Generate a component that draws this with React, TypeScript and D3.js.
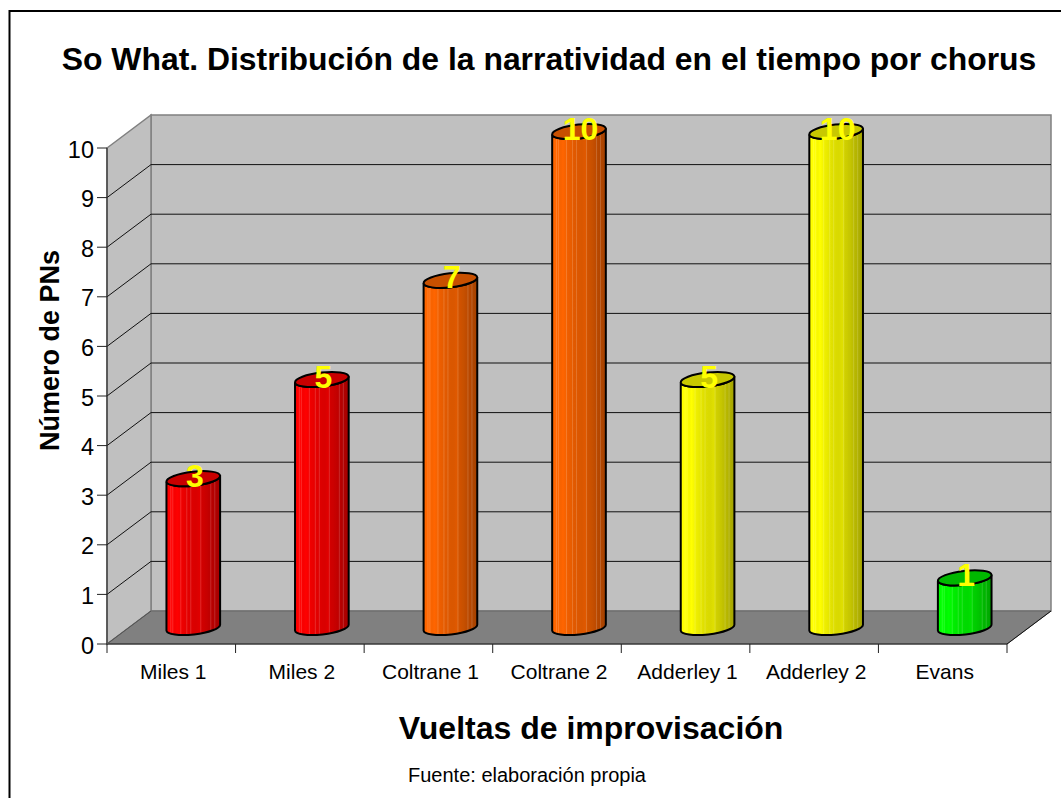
import React from "react";
import * as d3 from "d3";

const categories = ["Miles 1", "Miles 2", "Coltrane 1", "Coltrane 2", "Adderley 1", "Adderley 2", "Evans"];
const values = [3, 5, 7, 10, 5, 10, 1];
const barColors = ["#ff0000", "#ff0000", "#ff6600", "#ff6600", "#ffff00", "#ffff00", "#00ff00"];
const topColors = ["#c80000", "#c80000", "#c85000", "#c85000", "#c8c800", "#c8c800", "#00b800"];
const yTicks = [0, 1, 2, 3, 4, 5, 6, 7, 8, 9, 10];
const FONT = "'Liberation Sans', Arial, sans-serif";

const W = 1061, H = 798;
const DX = 44, DY = 33;
const RX = 27, RY = 7;
const ROT = -6.5;

const x = d3.scaleBand<string>().domain(categories).range([107, 1007]);
const y = d3.scaleLinear().domain([0, 10]).range([644, 148]);

// vertical-band shading of a cylinder
const shadeStops: [number, number][] = [
  [0, 1.0], [0.1, 1.0], [0.16, 0.97], [0.2, 1.0], [0.3, 0.93], [0.45, 0.87], [0.55, 0.85],
  [0.62, 0.88], [0.66, 0.82], [0.75, 0.78], [0.85, 0.72], [0.93, 0.68], [1, 0.64],
];
function shade(color: string, f: number) {
  const c = d3.rgb(color);
  return d3.rgb(c.r * f, c.g * f, c.b * f).formatHex();
}
const stripes = d3.range(0, 27);

function Bar({ i }: { i: number }) {
  const cat = categories[i];
  const cx = (x(cat) as number) + x.bandwidth() / 2 + DX / 2;
  const yBase = y(0) - DY / 2;
  const yTop = y(values[i]) - DY / 2;
  const a = (ROT * Math.PI) / 180;
  const ex = RX * Math.cos(a), ey = RX * Math.sin(a);
  const body = `M${cx - ex},${yTop - ey} L${cx - ex},${yBase - ey} A${RX},${RY} ${ROT} 0 0 ${cx + ex},${yBase + ey} L${cx + ex},${yTop + ey} A${RX},${RY} ${ROT} 0 1 ${cx - ex},${yTop - ey} Z`;
  return (
    <g>
      <clipPath id={`clip${i}`}><path d={body} /></clipPath>
      <path d={body} fill={`url(#grad${i})`} />
      <g clipPath={`url(#clip${i})`} opacity={0.16}>
        {stripes.filter((s) => s % 5 === 2 || s % 7 === 3).map((s) => (
          <rect key={s} x={cx - RX + s * 2} y={yTop - 10} width={1} height={yBase - yTop + 20} fill="#fff" />
        ))}
      </g>
      <path d={body} fill="none" stroke="#000" strokeWidth={2} />
      <ellipse cx={cx} cy={yTop} rx={RX} ry={RY} transform={`rotate(${ROT} ${cx} ${yTop})`} fill={topColors[i]} stroke="#000" strokeWidth={2} />
    </g>
  );
}

export default function App() {
  const backLeft = 107 + DX, backRight = 1007 + DX;
  const backY = (v: number) => y(v) - DY;
  return (
    <svg width={W} height={H} viewBox={`0 0 ${W} ${H}`} style={{ position: "absolute", left: 0, top: 0, fontFamily: FONT }}>
      <rect x={9.5} y={11} width={W + 10} height={H + 10} fill="#fff" stroke="#000" strokeWidth={2} />
      <defs>
        {categories.map((_, i) => (
          <linearGradient id={`grad${i}`} key={i} x1="0" x2="1" y1="0" y2="0">
            {shadeStops.map(([o, f]) => (
              <stop key={o} offset={o} stopColor={shade(barColors[i], f)} />
            ))}
          </linearGradient>
        ))}
      </defs>
      <text x={549} y={70} fontSize={31.9} fontWeight="bold" textAnchor="middle">So What. Distribución de la narratividad en el tiempo por chorus</text>

      {/* walls */}
      <polygon points={`${backLeft},${backY(10)} ${backRight},${backY(10)} ${backRight},${backY(0)} ${backLeft},${backY(0)}`} fill="#c0c0c0" stroke="#808080" strokeWidth={1.5} />
      <polygon points={`107,${y(10)} ${backLeft},${backY(10)} ${backLeft},${backY(0)} 107,${y(0)}`} fill="#c0c0c0" stroke="#808080" strokeWidth={1.5} />
      <polygon points={`107,${y(0)} ${backLeft},${backY(0)} ${backRight},${backY(0)} 1007,${y(0)}`} fill="#808080" stroke="#666" strokeWidth={1} />

      {/* gridlines */}
      {yTicks.filter((t) => t > 0 && t < 10).map((t) => (
        <g key={t} stroke="#111" strokeWidth={1}>
          <line x1={107} y1={y(t)} x2={backLeft} y2={backY(t)} />
          <line x1={backLeft} y1={backY(t)} x2={backRight} y2={backY(t)} />
        </g>
      ))}

      {/* axes */}
      <line x1={107} y1={y(0)} x2={107} y2={y(10)} stroke="#333" strokeWidth={1.2} />
      <line x1={107} y1={y(0)} x2={1007} y2={y(0)} stroke="#222" strokeWidth={1.2} />
      <line x1={107} y1={y(0)} x2={backLeft} y2={backY(0)} stroke="#555" strokeWidth={1} />
      <line x1={1007} y1={y(0)} x2={backRight} y2={backY(0)} stroke="#111" strokeWidth={1} />
      {yTicks.map((t) => (
        <g key={t}>
          <line x1={97} y1={y(t)} x2={107} y2={y(t)} stroke="#222" strokeWidth={1} />
          <text x={94} y={y(t) + 9.5} fontSize={23.5} textAnchor="end">{t}</text>
        </g>
      ))}
      {d3.range(0, categories.length + 1).map((i) => {
        const px = 107 + i * x.step();
        return <line key={i} x1={px} y1={y(0)} x2={px} y2={653} stroke="#222" strokeWidth={1} />;
      })}
      {categories.map((c) => (
        <text key={c} x={(x(c) as number) + x.bandwidth() / 2 + 2} y={679} fontSize={21} textAnchor="middle">{c}</text>
      ))}

      {/* bars */}
      {categories.map((c, i) => <Bar key={c} i={i} />)}

      {/* data labels */}
      {categories.map((c, i) => (
        <text key={c} x={(x(c) as number) + x.bandwidth() / 2 + DX / 2 + 1.5} y={y(values[i]) - DY / 2 + 8} fontSize={32} fontWeight="bold" textAnchor="middle" fill="#ffff00">{values[i]}</text>
      ))}

      <text transform="translate(59,350.5) rotate(-90)" fontSize={27} fontWeight="bold" textAnchor="middle">Número de PNs</text>
      <text x={591} y={739} fontSize={32} fontWeight="bold" textAnchor="middle">Vueltas de improvisación</text>
      <text x={527} y={782} fontSize={20} textAnchor="middle">Fuente: elaboración propia</text>
    </svg>
  );
}
